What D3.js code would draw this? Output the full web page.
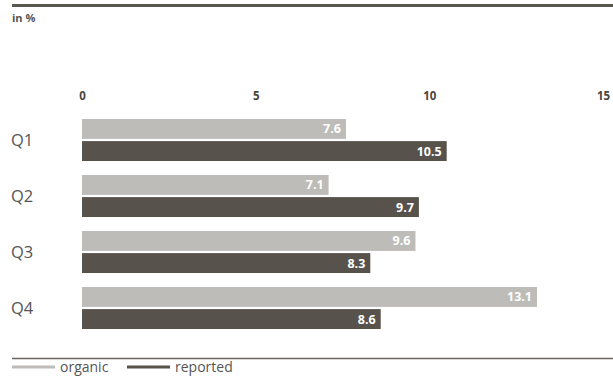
<!DOCTYPE html>
<html>
<head>
<meta charset="utf-8">
<script src="https://cdn.jsdelivr.net/npm/d3@7"></script>
<style>
  body { margin: 0; background: #fff; }
  svg { display: block; font-family: "Open Sans", sans-serif; }
</style>
</head>
<body>
<div id="chart"></div>
<script>
// data
const quarters = ["Q1", "Q2", "Q3", "Q4"];
const organic = [7.6, 7.1, 9.6, 13.1];
const reported = [10.5, 9.7, 8.3, 8.6];
const seriesNames = ["organic", "reported"];
const tickValues = [0, 5, 10, 15];

const colors = { organic: "#bebcb9", reported: "#57524c" };

const width = 613, height = 376;
const margin = { top: 119, right: 10, bottom: 48, left: 82 };

const svg = d3.select("#chart").append("svg")
    .attr("width", width)
    .attr("height", height);

// top rule
svg.append("rect")
    .attr("x", 12).attr("y", 4)
    .attr("width", width - 12).attr("height", 3)
    .attr("fill", "#5a5650");

svg.append("text")
    .attr("x", 12).attr("y", 22)
    .attr("font-size", 11).attr("font-weight", "bold")
    .attr("fill", "#555")
    .text("in %");

const x = d3.scaleLinear().domain([0, 15]).range([margin.left, 603]);

const y = d3.scaleBand()
    .domain(quarters)
    .range([margin.top, margin.top + 56 * 4])
    .paddingInner(0)
    .paddingOuter(0);

const inner = d3.scaleBand()
    .domain(seriesNames)
    .range([0, 42])
    .paddingInner(0.1);

// tick labels on top
const axis = d3.axisTop(x).tickValues(tickValues).tickSize(0).tickFormat(d3.format("d"));
const axisG = svg.append("g")
    .attr("transform", "translate(0,103)")
    .call(axis);
axisG.select(".domain").remove();
axisG.selectAll("text")
    .attr("font-family", "'Open Sans', sans-serif")
    .attr("font-size", 11.5).attr("font-weight", "bold")
    .attr("fill", "#4a4640");

// quarter labels
svg.selectAll(".qlabel")
    .data(quarters)
    .enter().append("text")
    .attr("class", "qlabel")
    .attr("x", 11)
    .attr("y", d => y(d) + 21)
    .attr("dy", "0.36em")
    .attr("font-size", 16.5)
    .attr("fill", "#555")
    .text(d => d);

const rows = quarters.map((q, i) => ({ q: q, organic: organic[i], reported: reported[i] }));

const groups = svg.selectAll(".grp")
    .data(rows)
    .enter().append("g")
    .attr("class", "grp")
    .attr("transform", d => `translate(0,${y(d.q)})`);

seriesNames.forEach(s => {
    groups.append("rect")
        .attr("x", x(0))
        .attr("y", inner(s))
        .attr("width", d => x(d[s]) - x(0))
        .attr("height", inner.bandwidth())
        .attr("fill", colors[s]);

    groups.append("text")
        .attr("x", d => x(d[s]) - 5)
        .attr("y", inner(s) + inner.bandwidth() / 2)
        .attr("dy", "0.36em")
        .attr("text-anchor", "end")
        .attr("font-size", 12.5).attr("font-weight", "bold")
        .attr("fill", "#fff")
        .text(d => d3.format(".1f")(d[s]));
});

// bottom rule
svg.append("line")
    .attr("x1", 12).attr("x2", width)
    .attr("y1", 358.5).attr("y2", 358.5)
    .attr("stroke", "#6a6660").attr("stroke-width", 1.5);

// legend (kept just inside the bottom edge)
const legendX = [12, 127];
seriesNames.forEach((s, i) => {
    const lg = svg.append("g").attr("transform", `translate(${legendX[i]},367)`);
    lg.append("line")
        .attr("x1", 0).attr("x2", 43)
        .attr("y1", 0).attr("y2", 0)
        .attr("stroke", colors[s]).attr("stroke-width", 3);
    lg.append("text")
        .attr("x", 48).attr("y", 4.5)
        .attr("font-size", 14)
        .attr("fill", "#555")
        .text(s);
});
</script>
</body>
</html>
